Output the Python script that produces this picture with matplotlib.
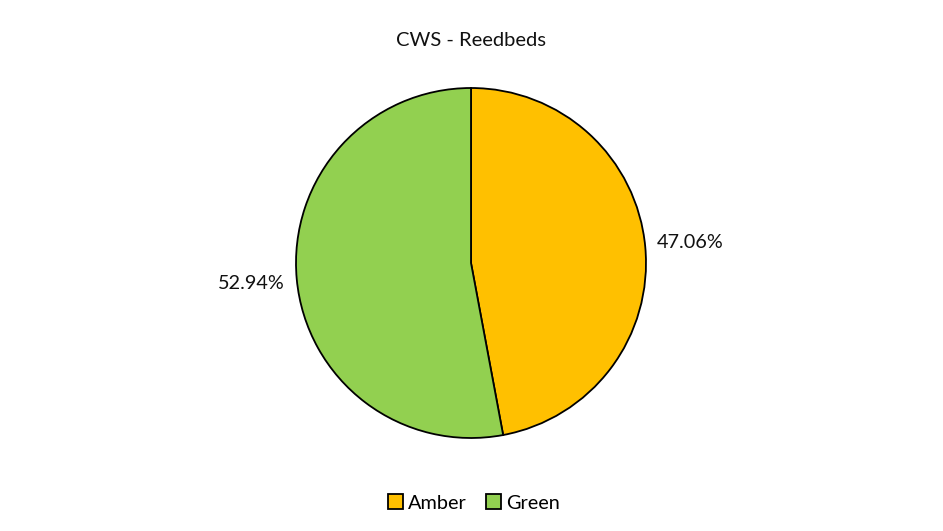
import matplotlib
matplotlib.use("Agg")
import matplotlib.pyplot as plt

plt.rcParams["font.family"] = ["Lato", "DejaVu Sans"]

categories = ["Amber", "Green"]
values = [47.06, 52.94]
colors = ["#FFC000", "#92D050"]

W, H = 943, 531
fig = plt.figure(figsize=(W / 100, H / 100), dpi=100)

# pie box in pixel coordinates
cx, cy, r = 471, 263, 175
ax = fig.add_axes([(cx - r) / W, (H - cy - r) / H, 2 * r / W, 2 * r / H])

wedges, texts, autotexts = ax.pie(
    values,
    colors=colors,
    startangle=90,
    counterclock=False,
    autopct="%.2f%%",
    pctdistance=1.26,
    wedgeprops=dict(edgecolor="black", linewidth=1.3),
    textprops=dict(fontsize=14.3, color="#111111"),
)
ax.set_xlim(-1, 1)
ax.set_ylim(-1, 1)
ax.set_aspect("equal")

fig.text(cx / W, 1 - 40 / H, "CWS - Reedbeds", ha="center", va="center",
         fontsize=14.5, color="#111111")

fig.legend(wedges, categories, loc="center", bbox_to_anchor=(474 / W, 1 - 503 / H),
           ncol=2, frameon=False, fontsize=14.3, handlelength=0.75, handleheight=0.75,
           handletextpad=0.25, columnspacing=1.0)

fig.savefig("out.png", dpi=100)
